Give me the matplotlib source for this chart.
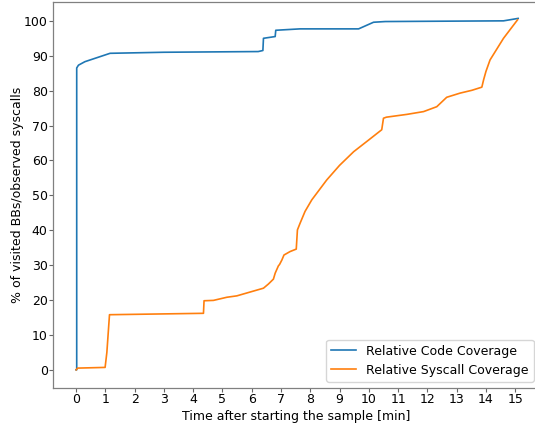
import matplotlib
matplotlib.use("Agg")
import matplotlib.pyplot as plt

# Relative Code Coverage (blue)
code_t = [0.0, 0.02, 0.02, 0.08, 0.3, 1.16, 3.0, 6.22, 6.38, 6.40, 6.8, 6.82, 7.65, 9.65, 10.16, 10.56, 12.5, 14.6, 15.1]
code_v = [0.0, 0.0, 86.5, 87.3, 88.3, 90.7, 91.0, 91.2, 91.5, 95.0, 95.5, 97.3, 97.7, 97.7, 99.6, 99.8, 99.9, 100.0, 100.7]

# Relative Syscall Coverage (orange)
sys_t = [0.0, 0.05, 0.99, 1.05, 1.1, 1.14, 4.35, 4.37, 4.69, 5.15, 5.49, 6.4, 6.57, 6.74, 6.8, 6.91, 6.95, 7.03, 7.1, 7.31, 7.52,
         7.56, 7.65, 7.82, 8.05, 8.56, 9.0, 9.48, 10.0, 10.44, 10.5, 10.6, 11.3, 11.87, 12.32, 12.66, 13.12, 13.52, 13.86,
         13.92, 14.0, 14.14, 14.6, 15.08]
sys_v = [0.0, 0.5, 0.7, 5.0, 11.0, 15.8, 16.2, 19.8, 19.9, 20.8, 21.2, 23.4, 24.6, 26.0, 27.7, 29.8, 30.2, 31.5, 32.9, 33.9, 34.6,
         40.1, 42.0, 45.4, 48.7, 54.4, 58.6, 62.5, 65.9, 68.8, 72.1, 72.4, 73.2, 74.0, 75.4, 78.1, 79.3, 80.1, 81.0,
         83.1, 85.5, 88.8, 95.0, 100.3]

xticks = list(range(0, 16))
yticks = list(range(0, 101, 10))

fs = 9.0
plt.rcParams['font.family'] = ['DejaVu Sans']
fig = plt.figure(figsize=(5.35, 4.26), dpi=100)
ax = fig.add_axes([53/535, 38/426, 507/535, 386/426])

ax.plot(code_t, code_v, color='#1f77b4', lw=1.2, label='Relative Code Coverage')
ax.plot(sys_t, sys_v, color='#ff7f0e', lw=1.2, label='Relative Syscall Coverage')

ax.set_xlim(-0.79, 16.53)
ax.set_ylim(-5.2, 105.4)
ax.set_xticks(xticks)
ax.set_yticks(yticks)
ax.tick_params(labelsize=fs, length=3.0, width=0.8, color='0.4', pad=0.8)
for s in ax.spines.values():
    s.set_color('0.5')
    s.set_linewidth(0.9)
ax.spines['right'].set_visible(False)

ax.set_xlabel('Time after starting the sample [min]', fontsize=fs, labelpad=1)
ax.xaxis.set_label_coords((296 - 53) / 507, -0.058)
ax.set_ylabel('% of visited BBs/observed syscalls', fontsize=fs, labelpad=0)

leg = ax.legend(loc='lower right', fontsize=fs, frameon=True, fancybox=True,
                bbox_to_anchor=((540 - 53) / 507, 0.0), borderaxespad=0.5)

fig.savefig('out.png', dpi=100)
